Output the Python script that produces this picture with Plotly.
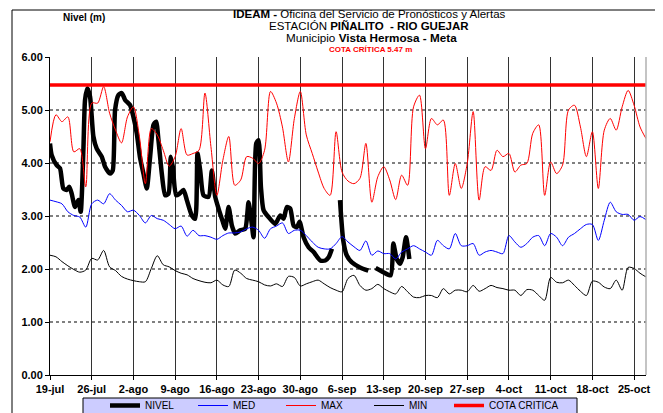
import pandas as pd
import plotly.graph_objects as go

# ---------------- data ----------------
inicio = "2019-07-19"
n_dias = 101
tick_labels = ["19-jul", "26-jul", "2-ago", "9-ago", "16-ago", "23-ago", "30-ago",
               "6-sep", "13-sep", "20-sep", "27-sep", "4-oct", "11-oct", "18-oct", "25-oct"]

max_m = [4.40, 4.91, 4.78, 4.87, 4.21, 4.27, 3.55, 5.13, 5.13, 5.44,
         4.94, 4.62, 4.38, 4.87, 5.06, 4.50, 3.61, 4.65, 4.53, 4.24,
         3.94, 4.12, 4.65, 4.15, 4.18, 4.24, 5.32, 4.31, 3.39, 4.05,
         4.50, 3.58, 3.68, 4.12, 4.09, 3.99, 4.24, 5.35, 5.13, 4.68,
         4.02, 4.84, 5.35, 4.53, 4.18, 3.83, 3.52, 3.39, 4.59, 3.83,
         3.66, 3.61, 3.71, 4.37, 3.26, 3.74, 3.93, 3.68, 3.31, 3.77,
         3.58, 5.06, 5.28, 4.27, 4.84, 4.72, 4.81, 3.39, 3.99, 3.52,
         3.99, 4.97, 3.30, 3.93, 3.86, 4.24, 4.12, 4.18, 3.83, 3.96,
         3.99, 4.56, 4.72, 3.39, 4.02, 3.80, 3.96, 5.00, 5.09, 4.68,
         4.12, 4.59, 3.52, 4.62, 4.84, 4.62, 5.06, 5.37, 5.09, 4.68,
         4.46]

med_m = [3.30, 3.27, 3.23, 3.08, 3.01, 2.98, 2.79, 3.23, 3.30, 3.23,
         3.42, 3.30, 3.20, 3.08, 3.11, 3.01, 2.87, 3.01, 2.95, 2.92,
         2.84, 2.76, 2.81, 2.62, 2.73, 2.63, 2.63, 2.60, 2.56, 2.63,
         2.68, 2.68, 2.70, 2.76, 2.79, 2.73, 2.58, 2.76, 2.81, 2.87,
         2.67, 2.73, 2.73, 2.63, 2.51, 2.41, 2.38, 2.38, 2.48, 2.61,
         2.51, 2.42, 2.35, 2.53, 2.26, 2.34, 2.29, 2.29, 2.19, 2.32,
         2.38, 2.44, 2.38, 2.32, 2.26, 2.54, 2.44, 2.38, 2.67, 2.44,
         2.44, 2.48, 2.26, 2.32, 2.35, 2.32, 2.29, 2.63, 2.51, 2.41,
         2.48, 2.60, 2.63, 2.44, 2.67, 2.60, 2.44, 2.60, 2.67, 2.76,
         2.84, 2.84, 2.54, 2.92, 3.26, 3.08, 3.03, 3.03, 2.92, 2.99,
         2.93]

min_m = [2.26, 2.23, 2.14, 2.06, 1.99, 1.94, 1.98, 2.20, 2.17, 2.35,
         2.04, 1.97, 1.86, 1.81, 1.78, 1.76, 1.76, 2.01, 2.25, 2.08,
         2.04, 1.97, 1.92, 1.89, 1.82, 1.78, 1.75, 1.74, 1.79, 1.70,
         1.67, 1.98, 1.92, 1.82, 1.79, 1.76, 1.70, 1.68, 1.72, 1.67,
         1.86, 1.84, 1.68, 1.72, 1.76, 1.79, 1.72, 1.65, 1.60, 1.57,
         1.82, 1.88, 1.69, 1.60, 1.63, 1.71, 1.63, 1.57, 1.53, 1.67,
         1.57, 1.47, 1.46, 1.50, 1.50, 1.46, 1.63, 1.53, 1.60, 1.60,
         1.57, 1.69, 1.58, 1.63, 1.69, 1.65, 1.63, 1.60, 1.60, 1.50,
         1.61, 1.60, 1.50, 1.41, 1.84, 1.75, 1.74, 1.79, 1.69, 1.58,
         1.50, 1.77, 1.75, 1.66, 1.63, 1.79, 1.60, 2.03, 2.01, 1.92,
         1.85]

# NIVEL: observed level (days since 19-jul, metres); None = no data
nivel_dia = [0.0, 0.28, 1.12, 1.68, 2.24, 2.80, 3.25, 3.64, 4.20, 4.76,
             5.15, 5.60, 5.88, 6.27, 6.72, 7.28, 7.84, 8.68, 9.24, 10.08,
             10.53, 10.92, 11.48, 12.04, 12.60, 13.44, 14.00, 14.56, 15.12, 15.68,
             16.24, 16.80, 17.36, 17.81, 18.20, 18.76, 19.32, 19.88, 20.27, 20.60,
             21.16, 21.72, 22.40, 22.96, 23.80, 24.36, 24.75, 25.20, 25.76, 26.60,
             27.16, 27.72, 28.28, 29.00, 29.40, 29.96, 30.52, 31.07, 31.91, 32.75,
             33.31, 33.71, 34.15, 34.60, 34.99, 35.39, 35.83, 36.67, 37.79, 38.63,
             39.19, 39.75, 40.31, 40.87, 41.43, 41.88, 42.55, 43.39, 44.23, 45.35,
             46.19, 46.75, 47.31,
             48.0,
             48.66, 49.2, 49.78, 50.61, 52.01, 53.41,
             54.0,
             54.64, 55.93, 57.16, 57.61, 58.17, 58.73, 59.17, 59.73, 60.29]
nivel_m = [4.37, 4.15, 3.96, 3.90, 3.52, 3.49, 3.55, 3.42, 3.17, 3.30,
           3.08, 4.24, 5.19, 5.41, 5.25, 4.50, 4.27, 4.12, 3.93, 3.80,
           3.86, 5.00, 5.28, 5.32, 5.19, 5.09, 4.87, 4.56, 4.09, 3.80,
           3.52, 4.12, 4.72, 4.78, 4.43, 3.80, 3.39, 3.42, 4.12, 3.93,
           3.39, 3.42, 3.49, 3.30, 3.01, 2.95, 4.18, 3.86, 3.39, 3.36,
           3.86, 3.36, 3.14, 2.89, 2.76, 3.17, 2.82, 2.67, 2.73, 2.76,
           3.26, 2.98, 2.60, 4.37, 4.43, 3.55, 3.11, 2.98, 2.85, 3.01,
           2.95, 3.17, 3.14, 2.82, 2.79, 2.89, 2.60, 2.41, 2.32, 2.16,
           2.16, 2.22, 2.38,
           None,
           3.30, 2.54, 2.26, 2.13, 2.03, 1.97,
           None,
           2.02, 1.94, 1.88, 2.48, 2.19, 2.10, 2.22, 2.60, 2.19]

cota_critica = 5.47

# ---------------- figure ----------------
t0 = pd.Timestamp(inicio)
fechas = pd.date_range(t0, periods=n_dias, freq="D")
nivel_fechas = [t0 + pd.Timedelta(days=d) for d in nivel_dia]
tick_vals = [t0 + pd.Timedelta(days=7 * i) for i in range(len(tick_labels))]
x_fin = t0 + pd.Timedelta(days=100)

FONT = "Arial, Liberation Sans, sans-serif"

fig = go.Figure()
fig.add_trace(go.Scatter(x=nivel_fechas, y=nivel_m, name="NIVEL", mode="lines",
                         line=dict(color="black", width=4.5, shape="spline", smoothing=0.6),
                         connectgaps=False))
fig.add_trace(go.Scatter(x=fechas, y=med_m, name="MED", mode="lines",
                         line=dict(color="#0000FF", width=1, shape="spline", smoothing=0.8)))
fig.add_trace(go.Scatter(x=fechas, y=max_m, name="MAX", mode="lines",
                         line=dict(color="#FF0000", width=1, shape="spline", smoothing=0.8)))
fig.add_trace(go.Scatter(x=fechas, y=min_m, name="MIN", mode="lines",
                         line=dict(color="black", width=1, shape="spline", smoothing=0.8)))
fig.add_trace(go.Scatter(x=[t0, x_fin], y=[cota_critica, cota_critica], name="COTA CRITICA",
                         mode="lines", line=dict(color="#FF0000", width=3.5), legend="legend2"))

# page body has an 8px margin: figure pixels = screen pixels - 8
OFF = 8
W, H = 655, 405
L, R, T, B = 42, 17, 49, 38
ph = H - T - B
pw = W - L - R


def sy(y):  # screen pixel from top -> paper y
    return (H - B - (y - OFF)) / ph


def sx(x):  # screen pixel from left -> paper x
    return (x - OFF - L) / pw


leg_common = dict(orientation="h", xanchor="left", yanchor="top",
                  bgcolor="rgba(0,0,0,0)", borderwidth=0,
                  font=dict(size=10, family=FONT), itemwidth=30, tracegroupgap=0)

fig.update_layout(
    width=W, height=H,
    margin=dict(l=L, r=R, t=T, b=B, autoexpand=False),
    paper_bgcolor="white", plot_bgcolor="white",
    font=dict(family=FONT, color="black", size=11),
    showlegend=True,
    legend=dict(x=sx(105), y=sy(391), entrywidth=43, entrywidthmode="pixels", **leg_common),
    legend2=dict(x=sx(449), y=sy(391), **leg_common),
    xaxis=dict(type="date", range=[t0, x_fin], tickvals=tick_vals, ticktext=tick_labels,
               showgrid=True, gridcolor="#333333", gridwidth=1,
               showline=True, linecolor="black", linewidth=1,
               ticks="outside", ticklen=4, tickcolor="black",
               tickfont=dict(size=11, family=FONT, weight="bold"), zeroline=False),
    yaxis=dict(range=[0, 6], dtick=1, tickformat=".2f",
               showgrid=True, gridcolor="#808080", gridwidth=1.5, griddash="dot",
               showline=True, linecolor="black", linewidth=1,
               ticks="outside", ticklen=4, tickcolor="black",
               tickfont=dict(size=11, family=FONT, weight="bold"), zeroline=False),
)

shapes = [
    # right border of plot
    dict(type="line", xref="paper", yref="paper", x0=1, x1=1, y0=0, y1=1,
         line=dict(color="#B0B0B0", width=1.5)),
    # outer chart frame (left and top edges)
    dict(type="line", xref="paper", yref="paper", x0=sx(12), x1=sx(12), y0=sy(10), y1=sy(420),
         line=dict(color="black", width=1)),
    dict(type="line", xref="paper", yref="paper", x0=sx(12), x1=sx(680), y0=sy(10), y1=sy(10),
         line=dict(color="black", width=1)),
    # legend box
    dict(type="rect", xref="paper", yref="paper", x0=sx(83), x1=sx(577), y0=sy(398), y1=sy(425),
         line=dict(color="black", width=1), fillcolor="#CCCCFF", layer="below"),
]
fig.update_layout(shapes=shapes)

ann = [
    dict(text="<b>Río Guejar (Vista Hermosa - Meta)</b>", x=sx(22), y=sy(-2.5), xanchor="left",
         yanchor="middle", font=dict(size=19)),
    dict(text="<b>Nivel (m)</b>", x=sx(61), y=sy(17), xanchor="left", yanchor="middle",
         font=dict(size=10)),
    dict(text="<b>IDEAM -</b> Oficina del Servicio de Pronósticos y Alertas", x=sx(369), y=sy(14),
         xanchor="center", yanchor="middle", font=dict(size=11.5)),
    dict(text="ESTACIÓN <b>PIÑALITO  - RIO GUEJAR</b>", x=sx(369), y=sy(26),
         xanchor="center", yanchor="middle", font=dict(size=11.5)),
    dict(text="Municipio <b>Vista Hermosa - Meta</b>", x=sx(371), y=sy(38),
         xanchor="center", yanchor="middle", font=dict(size=11.7)),
    dict(text="<b>COTA CRÍTICA 5.47 m</b>", x=sx(370), y=sy(49),
         xanchor="center", yanchor="middle", font=dict(size=8, color="#FF0000")),
]
for a in ann:
    a.update(xref="paper", yref="paper", showarrow=False)
fig.update_layout(annotations=ann)

fig.write_html("out.html")
